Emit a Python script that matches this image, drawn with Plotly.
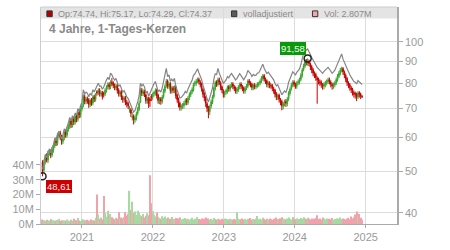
import math
import pandas as pd
import plotly.graph_objects as go

# ---------------- data (weekly candles) ----------------
start_date = "2020-06-12"
n_weeks = 236
dates = pd.date_range(start_date, periods=n_weeks, freq="7D")

open_ = [
    52.4, 50.2, 52.6, 54.2, 53.0, 55.2, 55.6, 54.5, 56.0, 57.2,
    59.2, 58.0, 60.4, 61.4, 60.2, 58.6, 59.8, 61.6, 60.6, 62.8,
    63.4, 65.6, 64.0, 66.2, 65.0, 67.2, 66.0, 68.6, 67.4, 69.8,
    71.2, 74.6, 72.6, 73.7, 73.2, 71.4, 73.2, 72.0, 74.6, 73.4,
    76.6, 76.2, 77.2, 75.6, 76.2, 75.9, 75.6, 77.0, 78.6, 79.7,
    78.4, 80.6, 80.2, 79.0, 78.2, 79.2, 77.2, 75.6, 76.6, 74.2,
    73.3, 74.2, 72.3, 71.8, 69.4, 69.5, 66.6, 67.2, 65.8, 66.3,
    68.2, 69.6, 72.4, 77.2, 75.8, 76.8, 75.3, 72.8, 74.0, 73.6,
    74.8, 74.2, 75.6, 76.0, 77.2, 75.2, 72.8, 73.7, 72.6, 74.6,
    76.8, 79.0, 81.2, 78.8, 80.0, 76.8, 78.2, 77.0, 78.6, 75.2,
    73.6, 72.0, 70.3, 70.9, 71.0, 72.2, 73.2, 72.2, 74.2, 75.3,
    76.6, 77.3, 79.8, 80.0, 81.2, 81.8, 80.6, 79.8, 77.6, 75.7,
    74.2, 71.8, 70.4, 68.8, 70.9, 72.4, 74.6, 77.8, 80.6, 79.6,
    81.8, 80.4, 78.6, 77.0, 75.3, 76.4, 76.8, 78.6, 77.6, 79.2,
    79.8, 78.6, 78.2, 76.8, 77.4, 78.7, 79.8, 78.6, 78.2, 76.8,
    78.2, 78.8, 81.2, 80.2, 79.7, 78.2, 79.4, 78.6, 79.2, 79.6,
    80.2, 81.2, 82.3, 83.5, 81.8, 81.2, 79.4, 80.4, 79.1, 79.2,
    77.8, 77.2, 75.7, 74.3, 75.2, 73.3, 72.7, 70.8, 72.0, 72.7,
    71.8, 73.7, 75.8, 77.8, 79.3, 80.6, 79.6, 78.8, 80.4, 80.6,
    81.8, 83.4, 86.2, 87.8, 90.4, 89.2, 90.2, 88.8, 87.6, 86.2,
    84.4, 84.0, 82.4, 81.8, 80.8, 80.6, 79.4, 78.8, 79.6, 80.2,
    80.8, 81.8, 80.6, 79.6, 78.8, 79.4, 80.2, 81.6, 83.1, 84.4,
    86.2, 86.7, 85.0, 83.6, 82.2, 80.2, 79.6, 78.2, 77.6, 76.2,
    75.8, 75.5, 74.4, 76.2, 75.6, 74.74,
]

high = [
    53.0, 53.2, 54.8, 55.0, 55.7, 56.4, 56.2, 56.9, 57.8, 59.7,
    60.0, 61.2, 62.0, 62.1, 60.8, 60.4, 62.2, 62.4, 63.3, 64.3,
    66.0, 66.3, 66.8, 66.9, 67.8, 68.0, 69.3, 69.4, 70.4, 71.9,
    75.4, 75.5, 74.4, 74.6, 74.0, 73.8, 74.0, 75.2, 75.4, 76.0,
    77.2, 78.0, 78.0, 77.0, 76.9, 76.6, 78.0, 79.3, 80.5, 80.6,
    81.4, 82.4, 81.0, 80.0, 80.0, 79.8, 78.0, 77.2, 77.2, 75.0,
    74.8, 74.8, 73.2, 72.6, 71.0, 70.2, 68.6, 67.8, 67.4, 68.8,
    70.6, 72.8, 78.0, 78.2, 77.6, 77.4, 75.8, 74.6, 74.4, 74.4,
    75.6, 76.2, 77.0, 78.0, 77.8, 75.8, 74.4, 74.4, 75.2, 77.8,
    79.6, 82.0, 81.8, 80.6, 80.6, 78.8, 79.0, 79.2, 79.2, 75.8,
    74.2, 72.6, 71.6, 72.0, 72.8, 73.8, 74.0, 74.8, 76.3, 77.2,
    78.4, 80.4, 81.2, 82.0, 82.6, 82.6, 81.4, 80.4, 78.2, 76.4,
    74.8, 72.4, 71.0, 71.4, 73.4, 75.2, 78.8, 81.2, 81.4, 82.6,
    82.6, 81.0, 79.2, 77.6, 77.0, 77.8, 79.2, 79.4, 79.8, 80.6,
    80.6, 79.4, 78.8, 78.4, 79.3, 80.4, 80.6, 79.4, 78.8, 78.8,
    79.8, 81.8, 82.0, 81.0, 80.4, 80.0, 80.2, 79.8, 80.6, 80.8,
    81.8, 83.3, 84.2, 84.2, 82.6, 81.8, 81.0, 81.0, 80.0, 79.8,
    78.6, 77.8, 76.4, 75.8, 75.8, 74.0, 73.4, 72.6, 73.4, 73.6,
    74.4, 76.8, 78.4, 80.4, 81.4, 81.4, 80.4, 81.0, 81.8, 82.6,
    84.6, 87.0, 89.0, 91.2, 91.3, 91.58, 91.0, 89.6, 88.4, 87.0,
    85.4, 84.8, 83.2, 82.6, 81.8, 81.4, 80.2, 80.6, 81.2, 81.8,
    82.6, 82.6, 81.4, 80.4, 80.4, 81.2, 82.6, 84.2, 85.6, 87.0,
    87.6, 87.4, 85.8, 84.4, 82.8, 81.0, 80.2, 79.0, 78.2, 77.0,
    76.6, 76.2, 76.8, 76.8, 76.2, 75.17,
]

low = [
    48.61, 49.6, 51.8, 52.4, 52.2, 54.3, 53.6, 53.9, 55.2, 56.6,
    57.2, 57.4, 59.6, 59.1, 57.6, 57.8, 59.0, 59.8, 59.9, 61.8,
    62.6, 63.0, 63.2, 64.0, 64.2, 65.0, 65.2, 66.4, 66.6, 68.9,
    70.4, 71.6, 71.6, 71.8, 70.2, 70.5, 71.0, 71.2, 72.4, 72.6,
    75.0, 75.2, 74.6, 74.6, 73.4, 74.2, 74.8, 76.2, 77.6, 77.4,
    77.6, 79.0, 78.0, 77.2, 77.2, 75.8, 74.6, 74.6, 73.2, 72.2,
    72.2, 71.2, 70.4, 69.8, 68.4, 66.8, 65.6, 64.2, 64.8, 65.6,
    67.4, 69.0, 72.0, 74.8, 74.8, 74.4, 71.8, 71.8, 70.2, 70.6,
    72.8, 73.2, 74.6, 75.0, 73.8, 71.8, 71.6, 71.4, 71.8, 73.8,
    76.0, 78.2, 77.8, 77.8, 75.8, 75.8, 76.0, 76.0, 73.8, 72.2,
    70.4, 69.2, 69.2, 69.8, 70.0, 71.2, 71.2, 71.4, 73.2, 74.4,
    75.6, 76.6, 78.8, 79.0, 80.2, 79.6, 78.4, 76.6, 74.2, 72.8,
    70.6, 68.6, 66.4, 67.6, 70.0, 71.6, 73.8, 77.0, 78.6, 78.8,
    79.4, 77.2, 76.0, 74.2, 74.2, 75.4, 75.8, 76.6, 76.6, 78.2,
    77.6, 76.8, 75.8, 75.6, 76.4, 77.6, 77.6, 76.8, 75.8, 75.8,
    77.2, 78.0, 79.2, 78.4, 77.2, 77.2, 77.6, 77.6, 78.2, 78.6,
    79.2, 80.2, 81.2, 80.8, 79.8, 78.4, 78.2, 78.0, 77.8, 76.8,
    75.8, 74.2, 73.2, 73.2, 72.2, 71.2, 69.3, 69.6, 70.8, 70.6,
    70.8, 72.8, 75.0, 77.0, 78.4, 78.6, 77.8, 77.8, 79.4, 79.6,
    81.0, 82.6, 85.4, 87.0, 88.2, 88.0, 87.8, 86.0, 84.6, 83.2,
    82.4, 81.2, 71.8, 79.6, 79.0, 78.2, 77.4, 77.6, 78.4, 79.2,
    79.8, 79.6, 78.4, 77.4, 77.8, 78.4, 79.4, 80.8, 82.4, 83.6,
    85.0, 83.8, 82.4, 80.6, 79.0, 78.0, 77.0, 76.0, 75.0, 74.2,
    73.8, 72.8, 73.6, 74.2, 73.6, 74.29,
]

close = [
    50.0, 52.5, 54.0, 53.2, 55.0, 55.5, 54.6, 56.2, 57.0, 59.0,
    58.2, 60.5, 61.2, 60.0, 58.8, 59.6, 61.5, 60.8, 62.6, 63.5,
    65.4, 64.2, 66.0, 65.1, 67.0, 66.2, 68.5, 67.6, 69.7, 71.0,
    74.4, 72.8, 73.5, 73.0, 71.6, 73.0, 72.2, 74.4, 73.6, 75.2,
    76.0, 77.0, 75.8, 76.0, 74.6, 75.5, 77.2, 78.4, 79.5, 78.6,
    80.4, 80.0, 79.2, 78.4, 79.0, 77.0, 75.8, 76.4, 74.4, 73.5,
    74.0, 72.5, 71.6, 71.0, 69.7, 68.2, 67.0, 66.0, 66.5, 68.0,
    69.8, 72.0, 77.0, 76.0, 76.6, 75.5, 73.0, 73.8, 71.8, 73.0,
    74.4, 75.4, 76.2, 77.0, 75.0, 73.0, 73.5, 72.8, 74.4, 77.0,
    78.8, 81.0, 79.0, 79.8, 77.0, 78.0, 77.2, 78.4, 75.0, 73.4,
    71.8, 70.5, 70.7, 71.2, 72.0, 73.0, 72.4, 74.0, 75.5, 76.4,
    77.5, 79.6, 80.2, 81.0, 81.6, 80.8, 79.6, 77.8, 75.5, 74.0,
    72.0, 70.2, 69.0, 70.7, 72.6, 74.4, 78.0, 80.4, 79.8, 81.6,
    80.6, 78.4, 77.2, 75.5, 76.2, 77.0, 78.4, 77.8, 79.0, 79.6,
    78.8, 78.0, 77.0, 77.6, 78.5, 79.6, 78.8, 78.0, 77.0, 78.0,
    79.0, 81.0, 80.4, 79.5, 78.4, 79.2, 78.8, 79.0, 79.8, 80.0,
    81.0, 82.5, 83.3, 82.0, 81.0, 79.6, 80.2, 79.3, 79.0, 78.0,
    77.0, 75.5, 74.5, 75.0, 73.5, 72.5, 71.0, 71.8, 72.5, 72.0,
    73.5, 76.0, 77.6, 79.5, 80.4, 79.8, 79.0, 80.2, 80.8, 81.6,
    83.6, 86.0, 88.0, 90.2, 89.4, 90.0, 89.0, 87.4, 86.0, 84.6,
    83.8, 82.6, 81.6, 81.0, 80.4, 79.6, 79.0, 79.8, 80.4, 81.0,
    81.6, 80.8, 79.8, 79.0, 79.6, 80.4, 81.8, 83.3, 84.6, 86.0,
    86.5, 85.2, 83.8, 82.0, 80.4, 79.4, 78.4, 77.4, 76.4, 75.6,
    75.3, 74.6, 76.0, 75.5, 74.8, 74.37,
]

adjusted = [
    50.5, 53.0, 54.5, 53.7, 55.6, 56.1, 55.1, 56.8, 57.6, 59.6,
    58.8, 61.1, 61.8, 60.6, 59.4, 60.8, 62.7, 62.0, 63.9, 64.8,
    66.7, 65.5, 67.3, 66.4, 68.3, 67.5, 69.9, 69.0, 71.1, 72.4,
    77.4, 75.7, 76.4, 75.9, 74.5, 75.9, 75.1, 77.4, 76.5, 78.2,
    79.0, 80.1, 78.8, 79.0, 77.6, 78.5, 80.3, 81.5, 82.7, 81.7,
    84.6, 83.8, 82.4, 81.5, 82.2, 80.1, 78.8, 79.5, 77.4, 76.4,
    77.0, 75.4, 74.5, 73.8, 72.5, 70.9, 69.7, 68.6, 69.2, 70.7,
    72.6, 74.9, 80.1, 79.0, 79.7, 78.5, 75.9, 76.8, 74.7, 75.9,
    77.4, 79.2, 80.0, 80.9, 78.8, 76.7, 77.2, 76.4, 78.1, 80.9,
    82.7, 86.8, 83.0, 83.8, 80.9, 81.9, 81.1, 82.3, 78.8, 77.1,
    75.4, 74.0, 74.2, 74.8, 75.6, 76.7, 76.0, 77.7, 79.3, 80.2,
    81.4, 83.6, 84.2, 85.1, 86.6, 84.8, 83.6, 81.7, 79.3, 77.7,
    75.6, 73.7, 72.5, 74.2, 76.2, 78.1, 81.9, 84.4, 83.8, 86.8,
    84.6, 83.1, 81.8, 80.0, 80.8, 81.6, 83.1, 82.5, 83.7, 84.4,
    83.5, 82.7, 81.6, 82.3, 83.2, 84.4, 83.5, 82.7, 81.6, 82.7,
    83.7, 85.9, 85.2, 84.3, 83.1, 84.0, 83.5, 83.7, 84.6, 84.8,
    85.9, 87.5, 88.8, 86.9, 85.9, 84.4, 85.0, 84.1, 83.7, 82.7,
    81.6, 80.0, 79.0, 79.5, 77.9, 76.9, 75.3, 76.1, 76.9, 76.3,
    77.9, 80.6, 82.3, 84.3, 85.2, 84.6, 83.7, 85.0, 85.6, 86.5,
    88.6, 92.0, 94.2, 96.5, 95.7, 96.3, 95.2, 93.5, 92.0, 90.5,
    89.7, 88.4, 87.3, 86.7, 86.0, 85.2, 84.5, 85.4, 86.0, 86.7,
    87.3, 86.5, 85.4, 84.5, 85.2, 86.0, 87.5, 89.1, 90.5, 93.0,
    93.8, 91.2, 89.7, 87.7, 86.0, 85.0, 83.9, 82.8, 81.7, 80.9,
    80.6, 79.8, 81.3, 80.8, 80.0, 79.6,
]

volume_m = [
    3.0, 2.5, 2.2, 2.8, 2.0, 2.4, 3.2, 2.1, 2.6, 2.3,
    2.0, 2.7, 3.4, 2.2, 2.5, 1.9, 2.6, 2.2, 3.0, 2.4,
    2.1, 2.8, 2.3, 3.6, 2.2, 2.6, 4.0, 2.4, 2.0, 2.7,
    3.2, 2.5, 2.2, 2.9, 2.4, 2.0, 3.1, 2.6, 2.3, 4.2,
    20.0, 6.5, 3.6, 4.4, 3.0, 19.0, 7.5, 5.0, 9.0, 5.5,
    6.8, 4.6, 3.8, 3.2, 4.2, 3.6, 8.0, 3.4, 4.4, 3.9,
    4.8, 8.0, 5.6, 7.0, 22.4, 9.5, 15.0, 7.6, 8.4, 6.2,
    9.0, 7.4, 6.0, 5.2, 6.8, 4.4, 5.6, 7.2, 6.0, 33.0,
    14.0, 8.6, 6.2, 5.0, 7.8, 4.6, 4.0, 3.6, 5.2, 4.2,
    5.0, 3.8, 4.4, 3.2, 3.6, 4.8, 3.0, 3.4, 4.0, 3.2,
    3.8, 4.4, 3.0, 3.6, 2.8, 4.0, 3.2, 3.6, 2.9, 3.4,
    4.2, 3.0, 3.6, 2.8, 4.6, 3.3, 3.0, 3.8, 2.9, 3.5,
    4.4, 3.2, 3.8, 3.0, 3.6, 2.8, 4.0, 3.4, 3.0, 3.6,
    3.2, 2.9, 3.5, 3.0, 3.8, 2.8, 3.4, 3.0, 3.6, 3.2,
    2.8, 3.4, 3.0, 8.0, 3.6, 3.2, 2.9, 3.8, 3.0, 3.4,
    2.8, 3.6, 3.2, 4.0, 2.9, 3.4, 3.0, 3.8, 5.4, 3.2,
    3.6, 3.0, 4.2, 3.4, 2.8, 3.6, 3.0, 3.8, 3.2, 2.9,
    3.6, 3.0, 4.4, 3.4, 3.0, 3.8, 4.6, 3.2, 3.6, 3.0,
    3.8, 4.4, 3.4, 3.0, 4.8, 3.6, 3.2, 3.8, 3.0, 3.4,
    4.0, 3.6, 4.6, 3.8, 3.4, 4.2, 3.6, 3.0, 3.8, 3.2,
    3.6, 4.0, 6.0, 3.4, 3.8, 3.0, 4.4, 3.6, 3.2, 3.8,
    3.0, 3.6, 3.2, 4.0, 2.9, 3.4, 3.0, 3.8, 3.6, 4.4,
    3.2, 3.8, 3.4, 3.0, 3.6, 4.2, 3.2, 5.0, 3.8, 4.6,
    6.4, 8.5, 5.0, 6.8, 4.2, 2.807,
]

price_ticks = [40, 50, 60, 70, 80, 90, 100]
volume_ticks = [0, 10, 20, 30, 40]
volume_tick_text = ["0M", "10M", "20M", "30M", "40M"]
year_ticks = ["2021-01-01", "2022-01-01", "2023-01-01", "2024-01-01", "2025-01-01"]
year_tick_text = ["2021", "2022", "2023", "2024", "2025"]

title_text = "4 Jahre, 1-Tages-Kerzen"
legend_ohlc = "Op:74.74, Hi:75.17, Lo:74.29, Cl:74.37"
legend_adj = "volladjustiert"
legend_vol = "Vol: 2.807M"

# ---------------- styles ----------------
FONT = "Liberation Sans, Arial, sans-serif"
UP = "#3aa52a"
DOWN = "#c40000"
VOL_UP = "#a9d9a3"
VOL_DOWN = "#f0a3ab"
GRID = "#dcdcdc"
TICK = "#9a9a9a"

vol_colors = [VOL_UP if c >= o else VOL_DOWN for o, c in zip(open_, close)]

fig = go.Figure()

fig.add_trace(go.Bar(
    x=dates, y=volume_m, yaxis="y2", marker=dict(color=vol_colors, line=dict(width=0)),
    hoverinfo="skip", showlegend=False,
))

fig.add_trace(go.Scatter(
    x=dates, y=adjusted, mode="lines", line=dict(color="#858585", width=1.2),
    hoverinfo="skip", showlegend=False,
))

fig.add_trace(go.Candlestick(
    x=dates, open=open_, high=high, low=low, close=close,
    increasing=dict(line=dict(color=UP, width=1), fillcolor=UP),
    decreasing=dict(line=dict(color=DOWN, width=1), fillcolor=DOWN),
    whiskerwidth=0, hoverinfo="skip", showlegend=False,
))

i_max = high.index(max(high))
i_min = low.index(min(low))
fig.add_trace(go.Scatter(
    x=[dates[i_max], dates[i_min]], y=[high[i_max], low[i_min]], mode="markers",
    marker=dict(symbol="circle-open", size=7, color="#222", line=dict(width=1.5)),
    hoverinfo="skip", showlegend=False,
))

def fmt_de(v):
    return f"{v:.2f}".replace(".", ",")

annotations = [
    dict(x=dates[i_max], y=math.log10(high[i_max]), xref="x", yref="y",
         text=fmt_de(high[i_max]), showarrow=False, xanchor="right", yanchor="bottom",
         xshift=-2, yshift=3, bgcolor="#0a990a", borderpad=1, borderwidth=0,
         font=dict(family=FONT, size=9.5, color="#f4fff0")),
    dict(x=dates[i_min], y=math.log10(low[i_min]), xref="x", yref="y",
         text=fmt_de(low[i_min]), showarrow=False, xanchor="left", yanchor="top",
         xshift=3, yshift=-4, bgcolor="#cc0000", borderpad=1, borderwidth=0,
         font=dict(family=FONT, size=9.5, color="#fff0f0")),
    dict(x=0.016, y=0.898, xref="paper", yref="paper", text="<b>" + title_text + "</b>",
         showarrow=False, xanchor="left", yanchor="middle",
         font=dict(family=FONT, size=12, color="#8a8a8a")),
    dict(x=0.0415, y=0.9689, xref="paper", yref="paper", text=legend_ohlc,
         showarrow=False, xanchor="left", yanchor="middle",
         font=dict(family=FONT, size=9, color="#8a8a8a")),
    dict(x=0.5605, y=0.9689, xref="paper", yref="paper", text=legend_adj,
         showarrow=False, xanchor="left", yanchor="middle",
         font=dict(family=FONT, size=9, color="#8a8a8a")),
    dict(x=0.789, y=0.9689, xref="paper", yref="paper", text=legend_vol,
         showarrow=False, xanchor="left", yanchor="middle",
         font=dict(family=FONT, size=9, color="#8a8a8a")),
]

shapes = [
    # header band
    dict(type="rect", xref="paper", yref="paper", x0=0, x1=1, y0=0.9467, y1=1,
         fillcolor="#e4e4e4", line=dict(width=0), layer="below"),
    # top border
    dict(type="line", xref="paper", yref="paper", x0=0, x1=1, y0=1, y1=1,
         line=dict(color="#cccccc", width=1)),
    # legend squares
    dict(type="rect", xref="paper", yref="paper", x0=0.0165, x1=0.0315, y0=0.9556, y1=0.982,
         fillcolor="#b30000", line=dict(color="#333", width=1)),
    dict(type="rect", xref="paper", yref="paper", x0=0.535, x1=0.550, y0=0.9556, y1=0.982,
         fillcolor="#5a5a5a", line=dict(color="#333", width=1)),
    dict(type="rect", xref="paper", yref="paper", x0=0.7625, x1=0.7775, y0=0.9556, y1=0.982,
         fillcolor="#f4a6ae", line=dict(color="#333", width=1)),
]

fig.update_layout(
    width=450, height=250,
    margin=dict(l=41, r=53, t=7, b=18, pad=0),
    paper_bgcolor="white", plot_bgcolor="white",
    font=dict(family=FONT, size=11, color=TICK),
    showlegend=False, bargap=0.15,
    annotations=annotations, shapes=shapes,
    xaxis=dict(
        type="date", range=["2020-06-04", "2025-06-11"],
        tickvals=year_ticks, ticktext=year_tick_text,
        showgrid=True, gridcolor=GRID, gridwidth=1,
        showline=True, linecolor="#aaaaaa", linewidth=1,
        ticks="outside", ticklen=3, tickcolor="#aaaaaa",
        tickfont=dict(size=11, color=TICK),
        rangeslider=dict(visible=False), zeroline=False, fixedrange=True,
    ),
    yaxis=dict(
        type="log", side="right", range=[1.5756, 2.0816],
        tickvals=price_ticks, ticktext=[str(v) for v in price_ticks],
        showgrid=True, gridcolor=GRID, gridwidth=1,
        showline=True, linecolor="#aaaaaa", linewidth=1.5,
        ticks="outside", ticklen=4, tickcolor="#aaaaaa",
        tickfont=dict(size=11, color=TICK), zeroline=False,
    ),
    yaxis2=dict(
        overlaying="y", side="left", range=[0, 146.8],
        tickvals=volume_ticks, ticktext=volume_tick_text,
        showgrid=False, showline=True, linecolor="#cccccc", linewidth=1,
        ticks="outside", ticklen=4, tickcolor="#aaaaaa",
        tickfont=dict(size=11, color=TICK), zeroline=False,
    ),
)

fig.write_html("out.html")
